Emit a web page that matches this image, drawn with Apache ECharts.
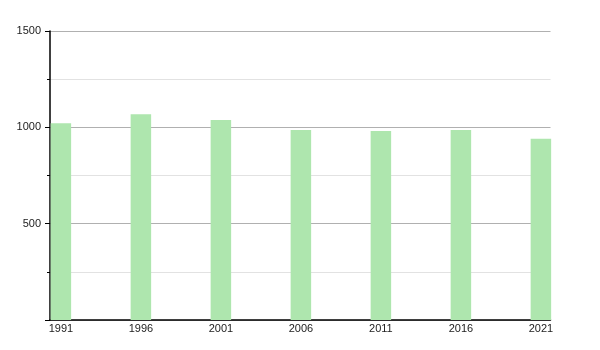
<!DOCTYPE html>
<html>
<head>
<meta charset="utf-8">
<script src="https://cdn.jsdelivr.net/npm/echarts@6/dist/echarts.min.js"></script>
<style>html,body{margin:0;padding:0;background:#fff;}#c{width:600px;height:350px;}</style>
</head>
<body>
<div id="c"></div>
<script>
const years = [1991, 1996, 2001, 2006, 2011, 2016, 2021];
const population = [1021, 1068, 1038, 986, 981, 986, 941];
const yTicks = [500, 1000, 1500];

const chart = echarts.init(document.getElementById('c'), null, {renderer: 'canvas'});
chart.setOption({
  animation: false,
  backgroundColor: '#fff',
  grid: {left: 50, right: 49.5, top: 31, bottom: 30, containLabel: false},
  xAxis: {
    type: 'value',
    min: 1990.32,
    max: 2021.6,
    axisLine: {show: true, onZero: false, lineStyle: {color: '#000', width: 1.5}},
    axisTick: {show: false},
    splitLine: {show: false},
    axisLabel: {
      customValues: years,
      formatter: v => String(v),
      color: '#222',
      fontFamily: 'Liberation Sans, Arial, sans-serif',
      fontSize: 11,
      margin: 3
    }
  },
  yAxis: {
    type: 'value',
    min: 0,
    max: 1500,
    interval: 500,
    axisLine: {show: true, lineStyle: {color: '#000', width: 1.5}},
    axisTick: {show: true, length: 5, lineStyle: {color: '#000'}},
    minorTick: {show: true, splitNumber: 2, length: 3, lineStyle: {color: '#000'}},
    splitLine: {show: true, lineStyle: {color: '#b0b0b0', width: 1}},
    minorSplitLine: {show: true, lineStyle: {color: '#e2e2e2', width: 1}},
    axisLabel: {
      formatter: v => (yTicks.indexOf(v) >= 0 ? String(v) : ''),
      color: '#222',
      fontFamily: 'Liberation Sans, Arial, sans-serif',
      fontSize: 11,
      margin: 9
    }
  },
  series: [{
    type: 'bar',
    barWidth: 20.5,
    itemStyle: {color: '#aee6ae'},
    data: years.map((y, i) => [y, population[i]])
  }]
});
</script>
</body>
</html>
